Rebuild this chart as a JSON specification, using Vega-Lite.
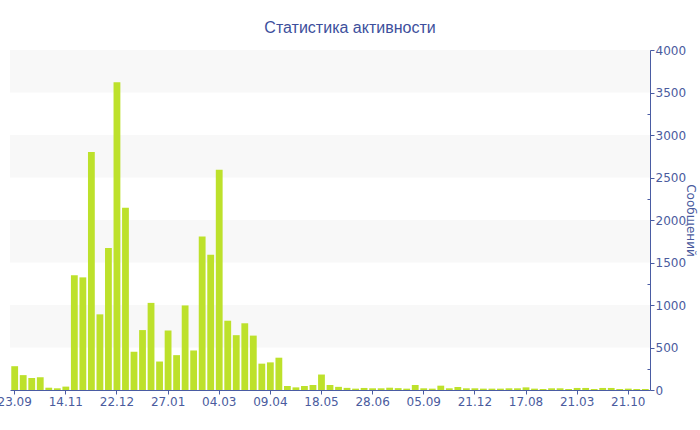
{
  "$schema": "https://vega.github.io/schema/vega-lite/v6.json",
  "width": 640,
  "height": 340,
  "autosize": {"type": "none"},
  "padding": {"left": 10, "top": 50, "right": 50, "bottom": 40},
  "background": "white",
  "title": {
    "text": "Статистика активности",
    "font": "Liberation Sans",
    "fontSize": 16,
    "fontWeight": "normal",
    "color": "#3d4f9c",
    "anchor": "middle",
    "dx": 20,
    "offset": 8
  },
  "config": {
    "view": {"stroke": null},
    "axis": {
      "labelFont": "DejaVu Sans",
      "labelFontSize": 12,
      "labelColor": "#4a5b9e",
      "titleFont": "DejaVu Sans",
      "titleFontSize": 12,
      "titleFontWeight": "normal",
      "titleColor": "#4a5b9e",
      "domainColor": "#4a5ca3",
      "tickColor": "#4a5ca3",
      "grid": false
    }
  },
  "datasets": {
    "bands": [
      {"lo": 500, "hi": 1000},
      {"lo": 1500, "hi": 2000},
      {"lo": 2500, "hi": 3000},
      {"lo": 3500, "hi": 4000}
    ],
    "weeks": [
      {"date": "23.09.2010", "v": 280},
      {"date": "01.10.2010", "v": 175},
      {"date": "10.10.2010", "v": 140},
      {"date": "18.10.2010", "v": 150},
      {"date": "27.10.2010", "v": 27},
      {"date": "05.11.2010", "v": 20},
      {"date": "14.11.2010", "v": 40},
      {"date": "20.11.2010", "v": 1350},
      {"date": "27.11.2010", "v": 1325},
      {"date": "03.12.2010", "v": 2800},
      {"date": "09.12.2010", "v": 890},
      {"date": "15.12.2010", "v": 1670},
      {"date": "22.12.2010", "v": 3620},
      {"date": "28.12.2010", "v": 2145},
      {"date": "03.01.2011", "v": 450},
      {"date": "09.01.2011", "v": 705},
      {"date": "15.01.2011", "v": 1025},
      {"date": "21.01.2011", "v": 335},
      {"date": "27.01.2011", "v": 700},
      {"date": "02.02.2011", "v": 410},
      {"date": "08.02.2011", "v": 995},
      {"date": "14.02.2011", "v": 465},
      {"date": "20.02.2011", "v": 1805},
      {"date": "26.02.2011", "v": 1590},
      {"date": "04.03.2011", "v": 2590},
      {"date": "10.03.2011", "v": 815},
      {"date": "16.03.2011", "v": 645},
      {"date": "22.03.2011", "v": 785},
      {"date": "28.03.2011", "v": 640},
      {"date": "03.04.2011", "v": 310},
      {"date": "09.04.2011", "v": 325},
      {"date": "15.04.2011", "v": 380},
      {"date": "22.04.2011", "v": 47},
      {"date": "28.04.2011", "v": 31},
      {"date": "05.05.2011", "v": 47},
      {"date": "11.05.2011", "v": 59},
      {"date": "18.05.2011", "v": 182},
      {"date": "25.05.2011", "v": 59},
      {"date": "01.06.2011", "v": 37},
      {"date": "08.06.2011", "v": 25},
      {"date": "15.06.2011", "v": 16},
      {"date": "21.06.2011", "v": 24},
      {"date": "28.06.2011", "v": 20},
      {"date": "10.07.2011", "v": 20},
      {"date": "21.07.2011", "v": 27},
      {"date": "01.08.2011", "v": 22},
      {"date": "13.08.2011", "v": 16},
      {"date": "24.08.2011", "v": 59},
      {"date": "05.09.2011", "v": 20},
      {"date": "23.09.2011", "v": 16},
      {"date": "11.10.2011", "v": 51},
      {"date": "29.10.2011", "v": 20},
      {"date": "16.11.2011", "v": 35},
      {"date": "03.12.2011", "v": 20},
      {"date": "21.12.2011", "v": 20},
      {"date": "01.02.2012", "v": 16},
      {"date": "13.03.2012", "v": 16},
      {"date": "24.04.2012", "v": 16},
      {"date": "04.06.2012", "v": 20},
      {"date": "10.07.2012", "v": 20},
      {"date": "17.08.2012", "v": 31},
      {"date": "22.09.2012", "v": 16},
      {"date": "28.10.2012", "v": 12},
      {"date": "03.12.2012", "v": 20},
      {"date": "08.01.2013", "v": 20},
      {"date": "13.02.2013", "v": 12},
      {"date": "21.03.2013", "v": 24},
      {"date": "26.04.2013", "v": 24},
      {"date": "01.06.2013", "v": 12},
      {"date": "07.07.2013", "v": 24},
      {"date": "12.08.2013", "v": 24},
      {"date": "17.09.2013", "v": 12},
      {"date": "21.10.2013", "v": 16},
      {"date": "26.11.2013", "v": 12},
      {"date": "01.01.2014", "v": 12}
    ]
  },
  "resolve": {"axis": {"y": "independent"}},
  "layer": [
    {
      "data": {"name": "bands"},
      "mark": {"type": "rect", "color": "#f8f8f8"},
      "encoding": {
        "y": {
          "field": "lo",
          "type": "quantitative",
          "scale": {"domain": [0, 4000], "nice": false, "zero": true},
          "axis": {
            "orient": "right",
            "values": [250, 750, 1250, 1750, 2250, 2750, 3250, 3750],
            "labels": false,
            "domain": false,
            "tickSize": -3,
            "title": null
          }
        },
        "y2": {"field": "hi"}
      }
    },
    {
      "data": {"name": "weeks"},
      "mark": {"type": "bar", "color": "#bde12b"},
      "encoding": {
        "x": {
          "field": "date",
          "type": "ordinal",
          "sort": null,
          "scale": {"paddingInner": 0.2, "paddingOuter": 0.15},
          "axis": {
            "title": null,
            "labelAngle": 0,
            "values": ["23.09.2010", "14.11.2010", "22.12.2010", "27.01.2011", "04.03.2011", "09.04.2011", "18.05.2011", "28.06.2011", "05.09.2011", "21.12.2011", "17.08.2012", "21.03.2013", "21.10.2013"],
            "labelExpr": "substring(datum.label, 0, 5)",
            "tickSize": 4,
            "labelPadding": 2
          }
        },
        "y": {
          "field": "v",
          "type": "quantitative",
          "scale": {"domain": [0, 4000], "nice": false},
          "axis": {
            "orient": "right",
            "values": [0, 500, 1000, 1500, 2000, 2500, 3000, 3500, 4000],
            "format": "d",
            "tickSize": 4,
            "labelPadding": 1,
            "title": "Сообщений",
            "titleAngle": 90,
            "titlePadding": -2
          }
        }
      }
    }
  ]
}
